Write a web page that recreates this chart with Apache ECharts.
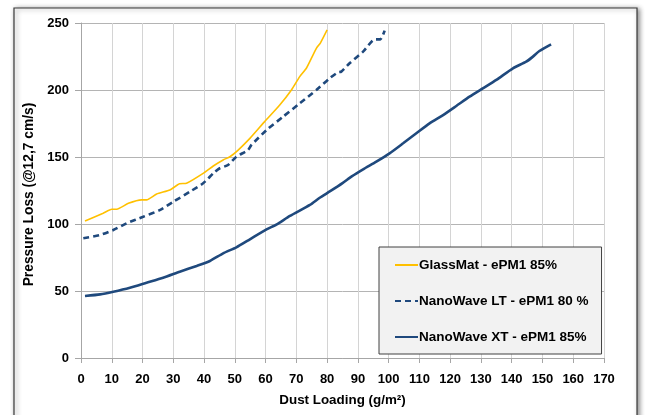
<!DOCTYPE html>
<html>
<head>
<meta charset="utf-8">
<script src="https://cdn.jsdelivr.net/npm/echarts@6/dist/echarts.min.js"></script>
<style>html,body{margin:0;padding:0;background:#fff;}#c{width:645px;height:415px;}</style>
</head>
<body>
<div id="c"></div>
<script>
const seriesNames = ['GlassMat - ePM1 85%', 'NanoWave LT - ePM1 80 %', 'NanoWave XT - ePM1 85%'];
const xTicks = [0,10,20,30,40,50,60,70,80,90,100,110,120,130,140,150,160,170];
const yTicks = [0,50,100,150,200,250];

const glassMat = [
  [1.3,102.2],[7.2,108],[10,111],[11.6,111],[15.4,115.4],[19.7,118],[21.3,118],
  [24.6,122.4],[28.9,125.4],[32,130],[34.3,130.4],[39.7,137.8],[43,143.3],
  [46.2,147.8],[48.4,150.2],[51,155],[54.9,163.9],[59.7,176.4],[64.6,188.8],
  [68.4,200],[71.1,210],[73.3,216.4],[76.5,231.1],[77.8,235],[80,244.8]
];
const nanoWaveLT = [
  [0.75,89.3],[6.2,91.8],[10.5,95.5],[14.8,100.5],[20.2,105.4],[25.6,110.4],
  [30,116.6],[35.4,124.1],[39.7,130.4],[43,137.8],[45.1,141.6],[47.8,144],
  [50.5,150.2],[54.3,155.2],[55.4,159],[60.3,170.1],[65.7,180.1],[71.1,190],
  [76.5,200],[80.8,208.7],[83.5,213.2],[84.6,213.7],[87.3,219.9],[91.7,228.6],
  [95.5,237.8],[97.3,237.8],[98.7,244.3]
];
const nanoWaveXT = [
  [1.3,46.3],[6.2,47.5],[10.5,49.5],[15.9,52.5],[21.3,56.2],[26.7,59.9],
  [32.1,64.4],[37.6,68.7],[41.9,72.4],[46.2,78.1],[50.5,82.6],[54.9,88.6],
  [60.3,96],[63.5,99.5],[67.9,106],[74.4,114.2],[77.6,119.6],[81,124.5],
  [85,130.5],[88,135.5],[91.7,140.8],[96,146.5],[100.3,152.7],[104.7,160.2],
  [109,167.7],[113.3,175.1],[117.7,181.3],[122,188.1],[126.3,195],[130.6,201.2],
  [135,207.5],[140.4,216.2],[144.7,221.1],[146.9,224.9],[149,229.1],[152.8,234.1]
];

const FONT = '"Liberation Sans", Arial, sans-serif';
const chart = echarts.init(document.getElementById('c'));
chart.setOption({
  animation: false,
  backgroundColor: '#ffffff',
  graphic: [{
    type: 'rect', z: -10, silent: true,
    shape: { x: 14, y: 8, width: 623, height: 420 },
    style: { fill: '#ffffff', stroke: '#3a3a3a', lineWidth: 1.2,
      shadowBlur: 5, shadowOffsetX: 2, shadowOffsetY: 1, shadowColor: 'rgba(0,0,0,0.45)' }
  }],
  grid: { left: 81, right: 41, top: 23, bottom: 57, containLabel: false },
  legend: {
    orient: 'vertical', left: 379, top: 247,
    backgroundColor: '#f2f2f2', borderColor: '#404040', borderWidth: 1,
    padding: [11, 13, 10, 15], itemGap: 22, itemWidth: 23, itemHeight: 14,
    itemStyle: { opacity: 0 },
    textStyle: { fontFamily: FONT, fontWeight: 'bold', fontSize: 13.5, color: '#000', padding: [0,0,0,-4] },
    data: seriesNames
  },
  xAxis: {
    type: 'value', min: 0, max: 170, interval: 10,
    name: 'Dust Loading (g/m²)', nameLocation: 'middle', nameGap: 36,
    nameTextStyle: { fontFamily: FONT, fontWeight: 'bold', fontSize: 13.4, color: '#000' },
    axisLine: { show: true, lineStyle: { color: '#a6a6a6' } },
    axisTick: { show: true, length: 5, lineStyle: { color: '#a6a6a6' } },
    axisLabel: { fontFamily: FONT, fontWeight: 'bold', fontSize: 13, color: '#000', margin: 15,
      formatter: v => xTicks.includes(v) ? String(v) : '' },
    splitLine: { show: true, lineStyle: { color: '#d4d4d4', width: 1 } }
  },
  yAxis: {
    type: 'value', min: 0, max: 250, interval: 50,
    name: 'Pressure Loss (@12,7 cm/s)', nameLocation: 'middle', nameGap: 41,
    nameTextStyle: { fontFamily: FONT, fontWeight: 'bold', fontSize: 13.8, color: '#000', padding: [0, 8, 0, 0] },
    axisLine: { show: true, lineStyle: { color: '#a6a6a6' } },
    axisTick: { show: true, length: 6, lineStyle: { color: '#a6a6a6' } },
    axisLabel: { fontFamily: FONT, fontWeight: 'bold', fontSize: 13, color: '#000', margin: 12,
      formatter: v => yTicks.includes(v) ? String(v) : '' },
    splitLine: { show: true, lineStyle: { color: '#b4b4b4', width: 1 } }
  },
  series: [
    { name: seriesNames[0], type: 'line', data: glassMat, symbol: 'none', smooth: 0.2,
      color: '#ffc000', lineStyle: { color: '#ffc000', width: 1.6 } },
    { name: seriesNames[1], type: 'line', data: nanoWaveLT, symbol: 'none', smooth: 0.2,
      color: '#1f497d', lineStyle: { color: '#1f497d', width: 2.6, type: [6, 4] } },
    { name: seriesNames[2], type: 'line', data: nanoWaveXT, symbol: 'none', smooth: 0.2,
      color: '#1f497d', lineStyle: { color: '#1f497d', width: 2.6 } }
  ]
});
</script>
</body>
</html>
